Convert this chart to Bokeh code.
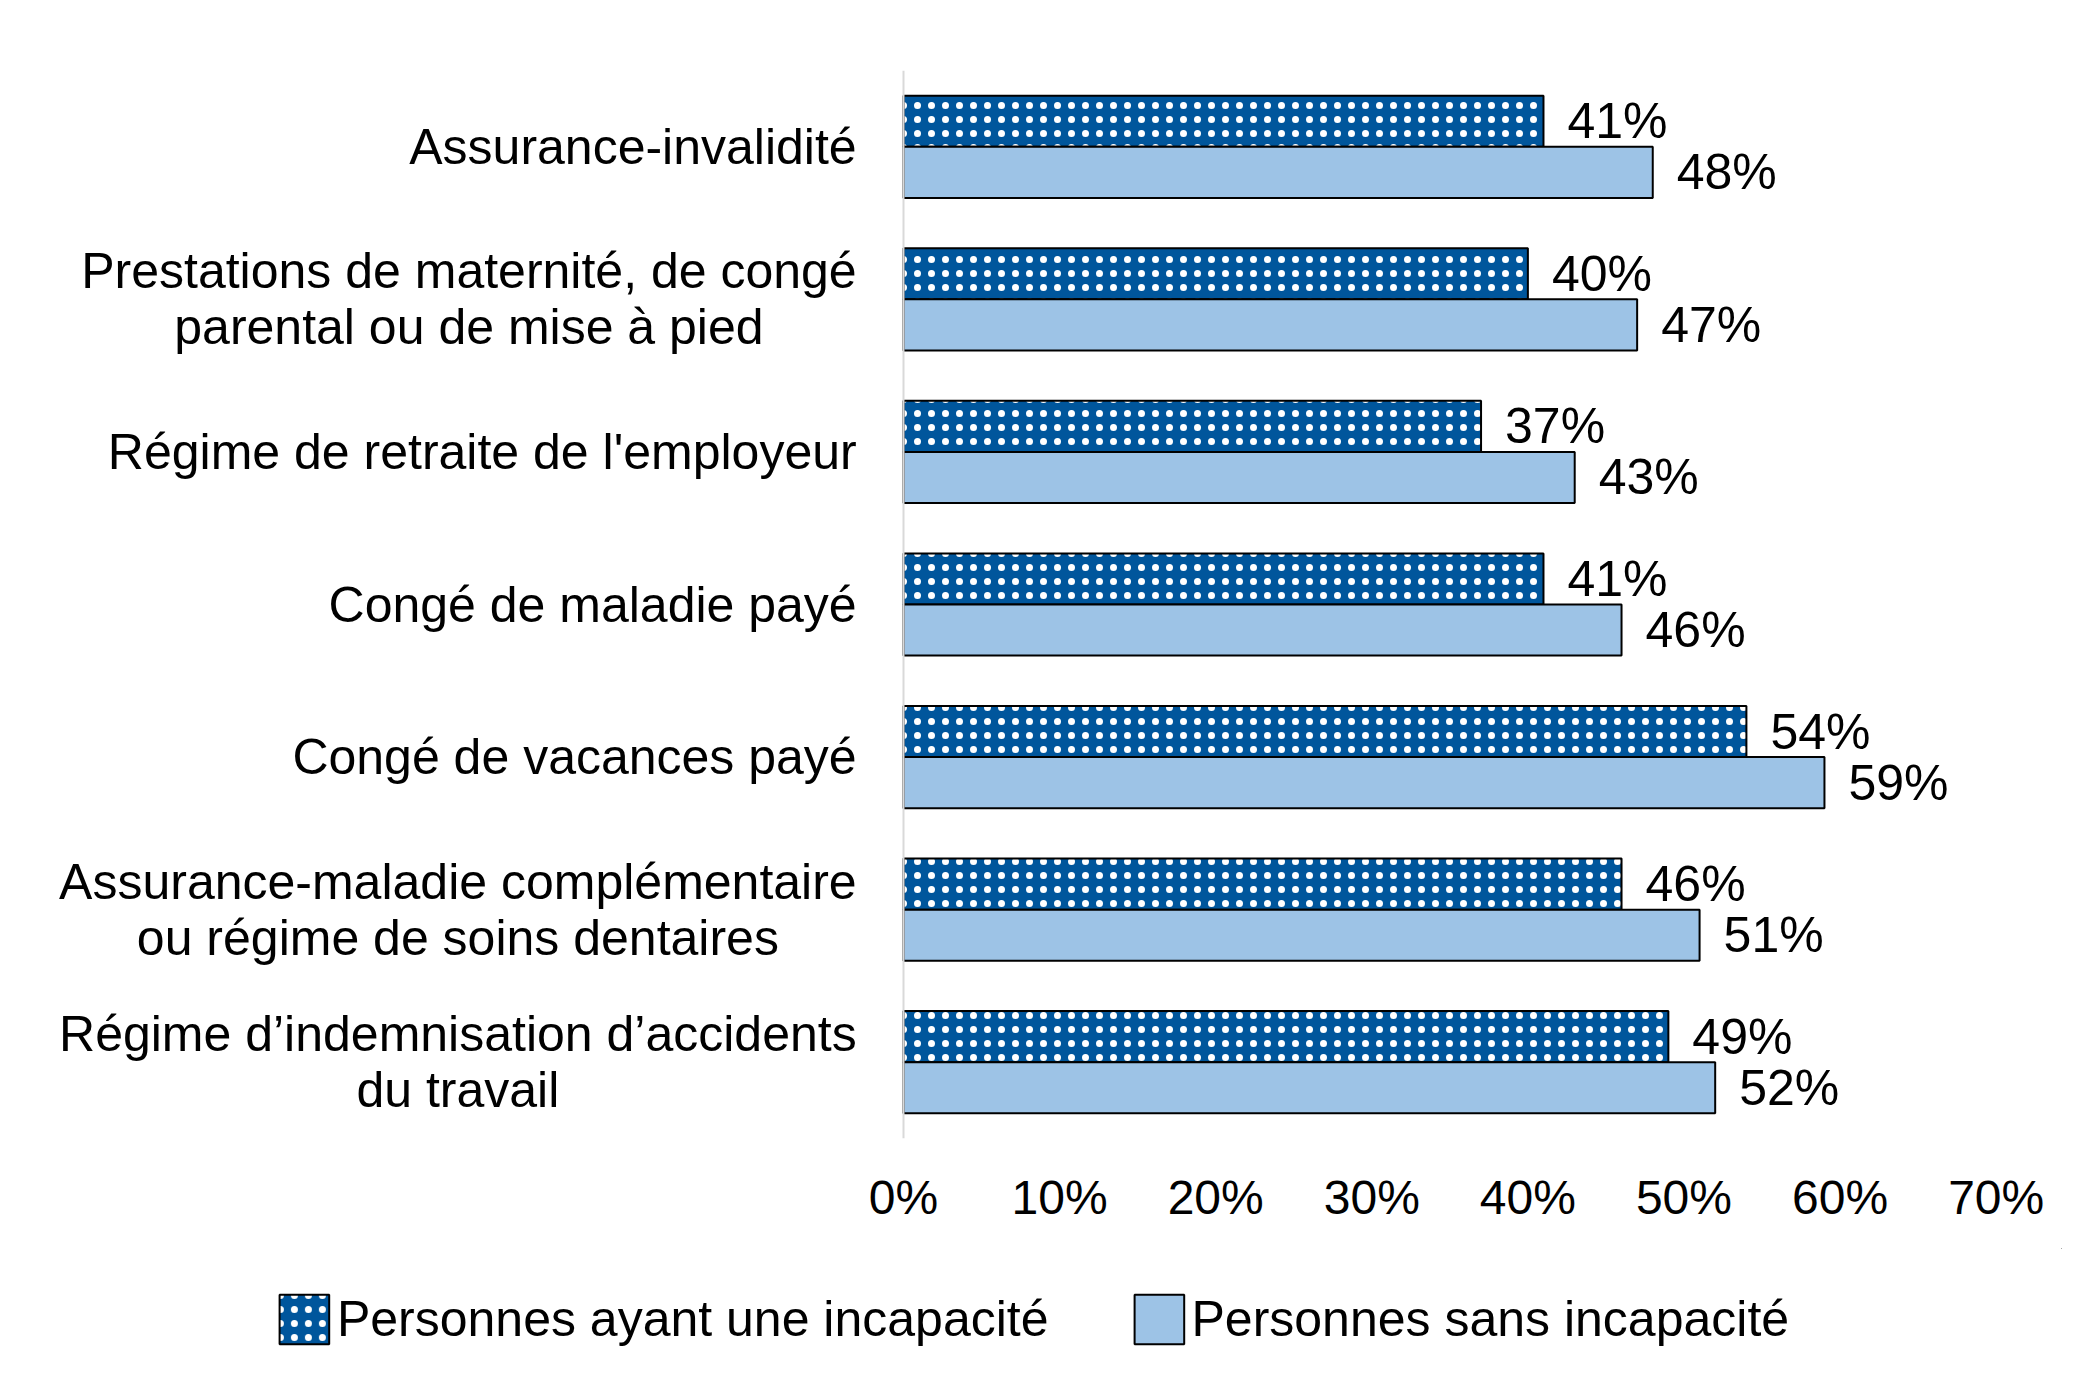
from bokeh.plotting import figure
from bokeh.layouts import column
from bokeh.models import (Range1d, FactorRange, ColumnDataSource, Span, Legend,
                          LegendItem, FixedTicker)
from bokeh.transform import dodge
from bokeh.core.properties import value
from bokeh.embed import file_html
from bokeh.resources import INLINE

# ---- data ----
categories = [
    "Assurance-invalidité",
    "Prestations de maternité, de congé\nparental ou de mise à pied",
    "Régime de retraite de l'employeur",
    "Congé de maladie payé",
    "Congé de vacances payé",
    "Assurance-maladie complémentaire\nou régime de soins dentaires",
    "Régime d’indemnisation d’accidents\ndu travail",
]
with_disability = [41, 40, 37, 41, 54, 46, 49]
without_disability = [48, 47, 43, 46, 59, 51, 52]
series_names = ["Personnes ayant une incapacité", "Personnes sans incapacité"]
x_ticks = [0, 10, 20, 30, 40, 50, 60, 70]
x_tick_labels = ["0%", "10%", "20%", "30%", "40%", "50%", "60%", "70%"]

FONT_NAME = "Liberation Sans"
FONT = value(FONT_NAME)
DARK = "#00569c"
LIGHT = "#9dc3e6"
BAR_H = 0.335

dark_style = dict(fill_color=DARK, line_color="black", line_width=2,
                  hatch_pattern="dot", hatch_color="white",
                  hatch_scale=14, hatch_weight=0.3)
light_style = dict(fill_color=LIGHT, line_color="black", line_width=2)

src = ColumnDataSource(dict(
    cat=categories,
    w=with_disability,
    wo=without_disability,
    w_lab=[f"{v}%" for v in with_disability],
    wo_lab=[f"{v}%" for v in without_disability],
    lab_x=[-3.0] * len(categories),
))

# ---- main chart ----
p = figure(frame_width=2062, frame_height=1068,
           x_range=Range1d(-57.85, 74.25),
           y_range=FactorRange(factors=list(reversed(categories))),
           output_backend="svg", toolbar_location=None,
           min_border_left=0, min_border_right=0,
           min_border_top=70, min_border_bottom=110)
p.outline_line_color = None
p.grid.visible = False
p.yaxis.visible = False
p.background_fill_color = "white"

p.hbar(y=dodge("cat", BAR_H / 2, range=p.y_range), right="w", left=0,
       height=BAR_H, source=src, **dark_style)
p.hbar(y=dodge("cat", -BAR_H / 2, range=p.y_range), right="wo", left=0,
       height=BAR_H, source=src, **light_style)

p.add_layout(Span(location=0, dimension="height", line_color="#d9d9d9",
                  line_width=2))

p.text(x="w", y=dodge("cat", BAR_H / 2, range=p.y_range), text="w_lab",
       source=src, x_offset=24, text_baseline="middle", text_align="left",
       text_font=FONT, text_font_size="50px", text_color="black")
p.text(x="wo", y=dodge("cat", -BAR_H / 2, range=p.y_range), text="wo_lab",
       source=src, x_offset=24, text_baseline="middle", text_align="left",
       text_font=FONT, text_font_size="50px", text_color="black")

p.text(x="lab_x", y="cat", text="cat", source=src, anchor="center_right",
       text_align="center", text_baseline="middle", text_line_height=1.0,
       text_font=FONT, text_font_size="50px", text_color="black")

xa = p.xaxis[0]
xa.ticker = FixedTicker(ticks=x_ticks)
xa.major_label_overrides = {t: l for t, l in zip(x_ticks, x_tick_labels)}
xa.axis_line_color = None
xa.major_tick_line_color = None
xa.minor_tick_line_color = None
xa.major_tick_out = 0
xa.major_tick_in = 0
xa.major_label_standoff = 32
xa.major_label_text_font = FONT_NAME
xa.major_label_text_font_size = "48px"
xa.major_label_text_color = "black"

# ---- legend strip ----
q = figure(frame_width=2062, frame_height=136,
           x_range=Range1d(0, 1), y_range=Range1d(0, 1),
           output_backend="svg", toolbar_location=None,
           min_border_left=0, min_border_right=0,
           min_border_top=0, min_border_bottom=0)
q.outline_line_color = None
q.grid.visible = False
q.axis.visible = False
# legend-only renderers, placed outside the visible range
lr1 = q.hbar(y=[5], right=[5], left=4, height=0.5, **dark_style)
lr2 = q.hbar(y=[5], right=[5], left=4, height=0.5, **light_style)

legend = Legend(items=[LegendItem(label=series_names[0], renderers=[lr1]),
                       LegendItem(label=series_names[1], renderers=[lr2])],
                orientation="horizontal", location="top_center",
                glyph_width=62, glyph_height=62, label_standoff=2,
                spacing=79, padding=4, margin=40,
                label_text_font=FONT_NAME, label_text_font_size="50px",
                label_text_color="black", border_line_color=None,
                background_fill_alpha=0)
q.add_layout(legend, "center")

layout = column(p, q, spacing=0)
open("out.html", "w").write(file_html(layout, INLINE))
